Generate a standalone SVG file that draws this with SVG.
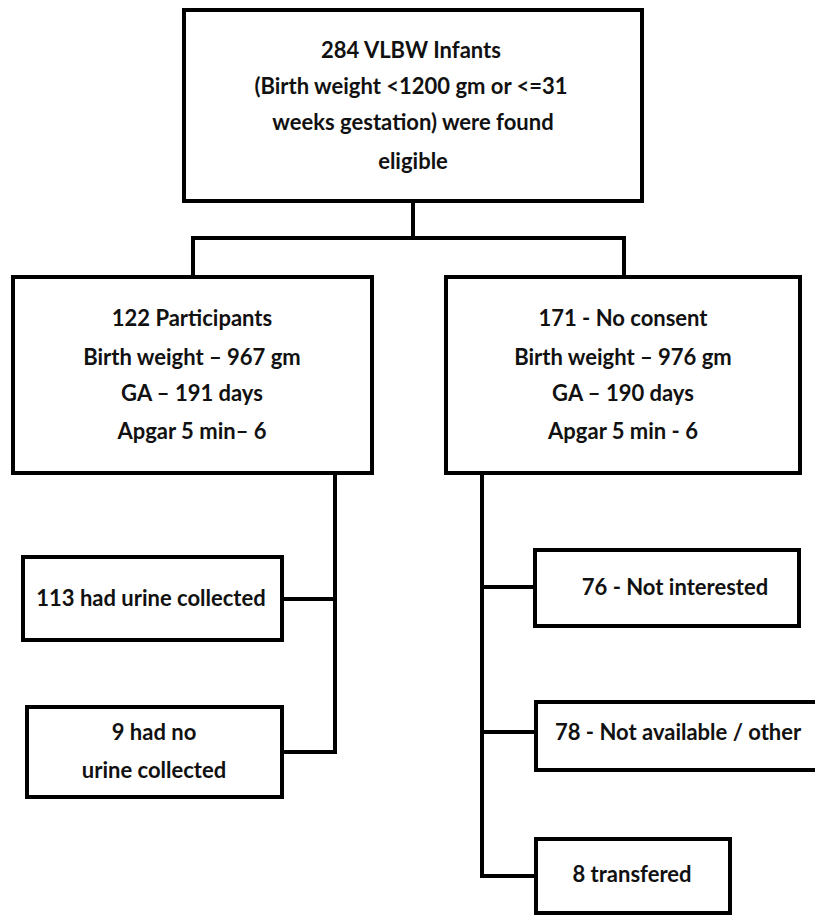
<svg xmlns="http://www.w3.org/2000/svg" width="815" height="915" viewBox="0 0 815 915">
<style>
.box{fill:#fff;stroke:#000;stroke-width:4}
.ln{fill:none;stroke:#000;stroke-width:4;stroke-linecap:square}
text{font-family:Lato,"Open Sans","Liberation Sans",sans-serif;font-weight:bold;font-size:22px;fill:#111;text-anchor:middle}
</style>
<rect width="815" height="915" fill="#fff"/>
<g id="connectors">
<path class="ln" d="M413,201 V238 M193,238 H624 M193,238 V277 M624,238 V277"/>
<path class="ln" d="M335,473 V752 M282,599 H335 M282,752 H335"/>
<path class="ln" d="M482,473 V876 M482,587 H535 M482,732 H536 M482,876 H536"/>
</g>
<g id="n_top">
<rect class="box" x="184" y="10" width="458" height="191"/>
<text x="411" y="58">284 VLBW Infants</text>
<text x="411" y="94">(Birth weight &lt;1200 gm or &lt;=31</text>
<text x="413" y="130">weeks gestation) were found</text>
<text x="413" y="169">eligible</text>
</g>
<g id="n_participants">
<rect class="box" x="13" y="277" width="359" height="196"/>
<text x="192" y="326">122 Participants</text>
<text x="192" y="365">Birth weight – 967 gm</text>
<text x="192" y="401">GA – 191 days</text>
<text x="192" y="439">Apgar 5 min– 6</text>
</g>
<g id="n_noconsent">
<rect class="box" x="446" y="277" width="354" height="196"/>
<text x="623" y="326">171 - No consent</text>
<text x="623" y="365">Birth weight – 976 gm</text>
<text x="623" y="401">GA – 190 days</text>
<text x="623" y="439">Apgar 5 min - 6</text>
</g>
<g id="n_urine">
<rect class="box" x="23" y="557" width="259" height="83"/>
<text x="151" y="606">113 had urine collected</text>
</g>
<g id="n_nourine">
<rect class="box" x="27" y="707" width="255" height="90"/>
<text x="154" y="740">9 had no</text>
<text x="154" y="778">urine collected</text>
</g>
<g id="n_notint">
<rect class="box" x="535" y="550" width="264" height="76"/>
<text x="675" y="595">76 - Not interested</text>
</g>
<g id="n_notavail">
<rect class="box" x="536" y="702" width="300" height="68"/>
<text x="555" y="740" style="text-anchor:start">78 - Not available / other</text>
</g>
<g id="n_transfer">
<rect class="box" x="536" y="839" width="194" height="74"/>
<text x="632" y="882">8 transfered</text>
</g>
</svg>
